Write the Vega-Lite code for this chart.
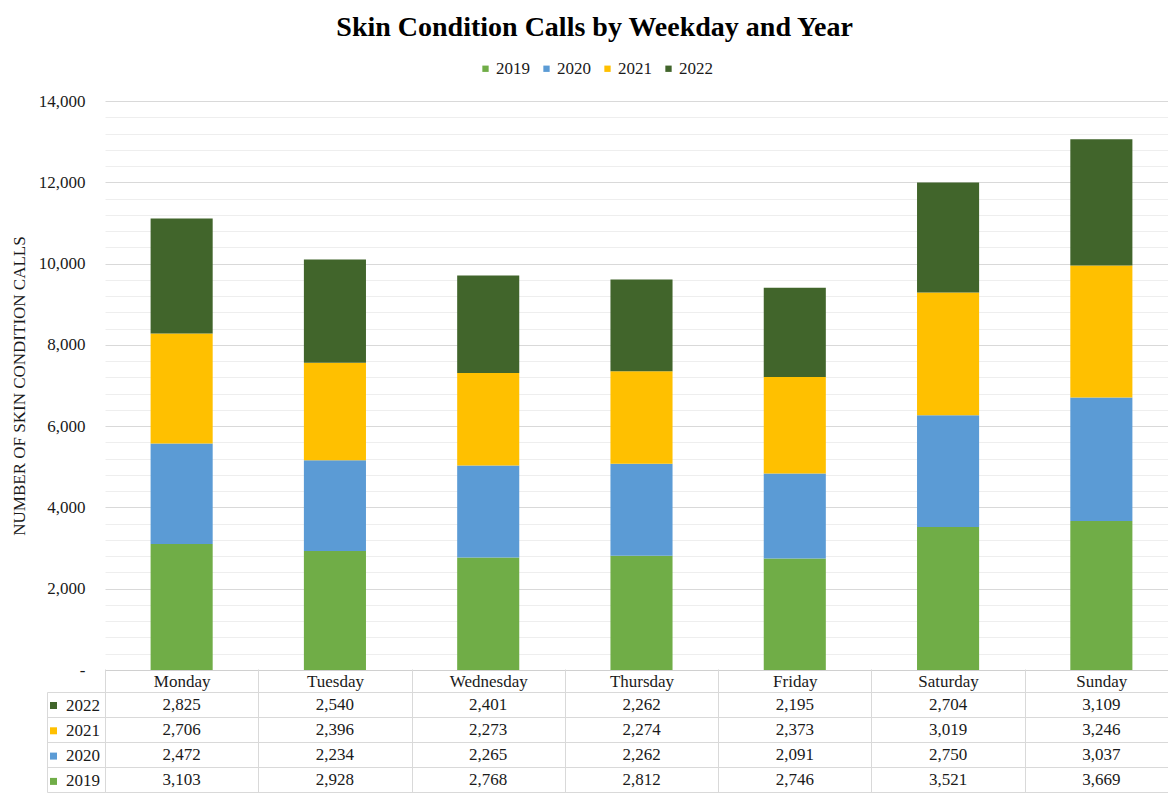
{
  "$schema": "https://vega.github.io/schema/vega-lite/v6.json",
  "padding": {"left": 10, "top": 14, "right": 0, "bottom": 0},
  "title": {"text": "Skin Condition Calls by Weekday and Year", "font": "Liberation Serif", "fontSize": 28, "fontWeight": "bold", "color": "#000000", "anchor": "middle", "offset": 18},
  "config": {"view": {"stroke": null}, "font": "Liberation Serif", "legend": {"labelFont": "Liberation Serif"}},
  "spacing": -10,
  "resolve": {"legend": {"color": "independent"}},
  "data": {"values": [
    {"day": "Monday", "year": "2019", "calls": 3103},
    {"day": "Monday", "year": "2020", "calls": 2472},
    {"day": "Monday", "year": "2021", "calls": 2706},
    {"day": "Monday", "year": "2022", "calls": 2825},
    {"day": "Tuesday", "year": "2019", "calls": 2928},
    {"day": "Tuesday", "year": "2020", "calls": 2234},
    {"day": "Tuesday", "year": "2021", "calls": 2396},
    {"day": "Tuesday", "year": "2022", "calls": 2540},
    {"day": "Wednesday", "year": "2019", "calls": 2768},
    {"day": "Wednesday", "year": "2020", "calls": 2265},
    {"day": "Wednesday", "year": "2021", "calls": 2273},
    {"day": "Wednesday", "year": "2022", "calls": 2401},
    {"day": "Thursday", "year": "2019", "calls": 2812},
    {"day": "Thursday", "year": "2020", "calls": 2262},
    {"day": "Thursday", "year": "2021", "calls": 2274},
    {"day": "Thursday", "year": "2022", "calls": 2262},
    {"day": "Friday", "year": "2019", "calls": 2746},
    {"day": "Friday", "year": "2020", "calls": 2091},
    {"day": "Friday", "year": "2021", "calls": 2373},
    {"day": "Friday", "year": "2022", "calls": 2195},
    {"day": "Saturday", "year": "2019", "calls": 3521},
    {"day": "Saturday", "year": "2020", "calls": 2750},
    {"day": "Saturday", "year": "2021", "calls": 3019},
    {"day": "Saturday", "year": "2022", "calls": 2704},
    {"day": "Sunday", "year": "2019", "calls": 3669},
    {"day": "Sunday", "year": "2020", "calls": 3037},
    {"day": "Sunday", "year": "2021", "calls": 3246},
    {"day": "Sunday", "year": "2022", "calls": 3109}
  ]},
  "vconcat": [
    {
      "width": 1073,
      "height": 569,
      "mark": {"type": "bar"},
      "encoding": {
        "x": {
          "field": "day", "type": "nominal",
          "sort": ["Monday", "Tuesday", "Wednesday", "Thursday", "Friday", "Saturday", "Sunday"],
          "scale": {"paddingInner": 0.595, "paddingOuter": 0.2975},
          "axis": {"title": null, "labels": false, "ticks": false, "domainColor": "#d0d0d0"}
        },
        "y": {
          "field": "calls", "type": "quantitative", "stack": "zero",
          "scale": {"domain": [0, 14000], "nice": false},
          "axis": {
            "title": "NUMBER OF SKIN CONDITION CALLS",
            "titleFont": "Liberation Serif", "titleFontSize": 17, "titleFontWeight": "normal", "titleColor": "#1a1a1a", "titlePadding": 10,
            "values": [0, 400, 800, 1200, 1600, 2000, 2400, 2800, 3200, 3600, 4000, 4400, 4800, 5200, 5600, 6000, 6400, 6800, 7200, 7600, 8000, 8400, 8800, 9200, 9600, 10000, 10400, 10800, 11200, 11600, 12000, 12400, 12800, 13200, 13600, 14000],
            "labelExpr": "datum.value % 2000 === 0 ? (datum.value === 0 ? '-' : format(datum.value, ',')) : ''",
            "labelFont": "Liberation Serif", "labelFontSize": 17, "labelColor": "#1a1a1a", "labelPadding": 20,
            "gridColor": {"condition": {"test": "datum.value % 2000 === 0", "value": "#d9d9d9"}, "value": "#eeeeee"},
            "domain": false, "ticks": false
          }
        },
        "color": {
          "field": "year", "type": "nominal",
          "scale": {"domain": ["2019", "2020", "2021", "2022"], "range": ["#70ad47", "#5b9bd5", "#ffc000", "#41652b"]},
          "legend": {"orient": "none", "legendX": 372, "legendY": -41, "direction": "horizontal", "title": null, "symbolType": "square", "symbolSize": 40, "symbolStrokeWidth": 0, "labelOffset": 2, "labelFont": "Liberation Serif", "labelFontSize": 17, "labelColor": "#1a1a1a", "columnPadding": 8}
        },
        "order": {"field": "year"}
      }
    },
    {
      "width": 1073,
      "height": 100,
      "view": {"stroke": "#d9d9d9"},
      "resolve": {"axis": {"y": "independent"}},
      "encoding": {
        "x": {
          "field": "day", "type": "nominal",
          "sort": ["Monday", "Tuesday", "Wednesday", "Thursday", "Friday", "Saturday", "Sunday"],
          "scale": {"paddingInner": 0, "paddingOuter": 0},
          "axis": {"orient": "top", "title": null, "labelFont": "Liberation Serif", "labelFontSize": 17, "labelColor": "#1a1a1a", "labelAngle": 0, "labelPadding": -21, "ticks": true, "tickSize": 23, "tickColor": "#d9d9d9", "domain": false, "grid": true, "tickBand": "extent", "gridColor": "#d9d9d9"}
        }
      },
      "layer": [
        {
          "mark": {"type": "text", "font": "Liberation Serif", "fontSize": 17},
          "encoding": {
            "y": {
              "field": "year", "type": "nominal", "sort": "descending",
              "scale": {"paddingInner": 0, "paddingOuter": 0},
              "axis": {"orient": "left", "labels": false, "ticks": true, "tickSize": 58, "tickBand": "extent", "tickColor": "#d9d9d9", "grid": true, "gridColor": "#d9d9d9", "domain": false, "title": null}
            },
            "text": {"field": "calls", "type": "quantitative", "format": ","},
            "color": {
              "condition": {"test": "false", "field": "year", "type": "nominal",
                "legend": {"orient": "left", "values": ["2022", "2021", "2020", "2019"], "title": null, "symbolType": "square", "symbolSize": 49, "symbolStrokeWidth": 0, "labelFont": "Liberation Serif", "labelFontSize": 17, "labelColor": "#1a1a1a", "rowPadding": 7.3, "offset": -59, "padding": 5}},
              "value": "#1a1a1a"
            }
          }
        },
        {
          "mark": {"type": "text", "text": ""},
          "encoding": {
            "y": {
              "field": "year", "type": "nominal", "sort": "descending",
              "axis": {"orient": "left", "offset": 58, "labels": false, "ticks": false, "grid": false, "domain": true, "domainColor": "#d9d9d9", "title": null}
            }
          }
        }
      ]
    }
  ]
}
